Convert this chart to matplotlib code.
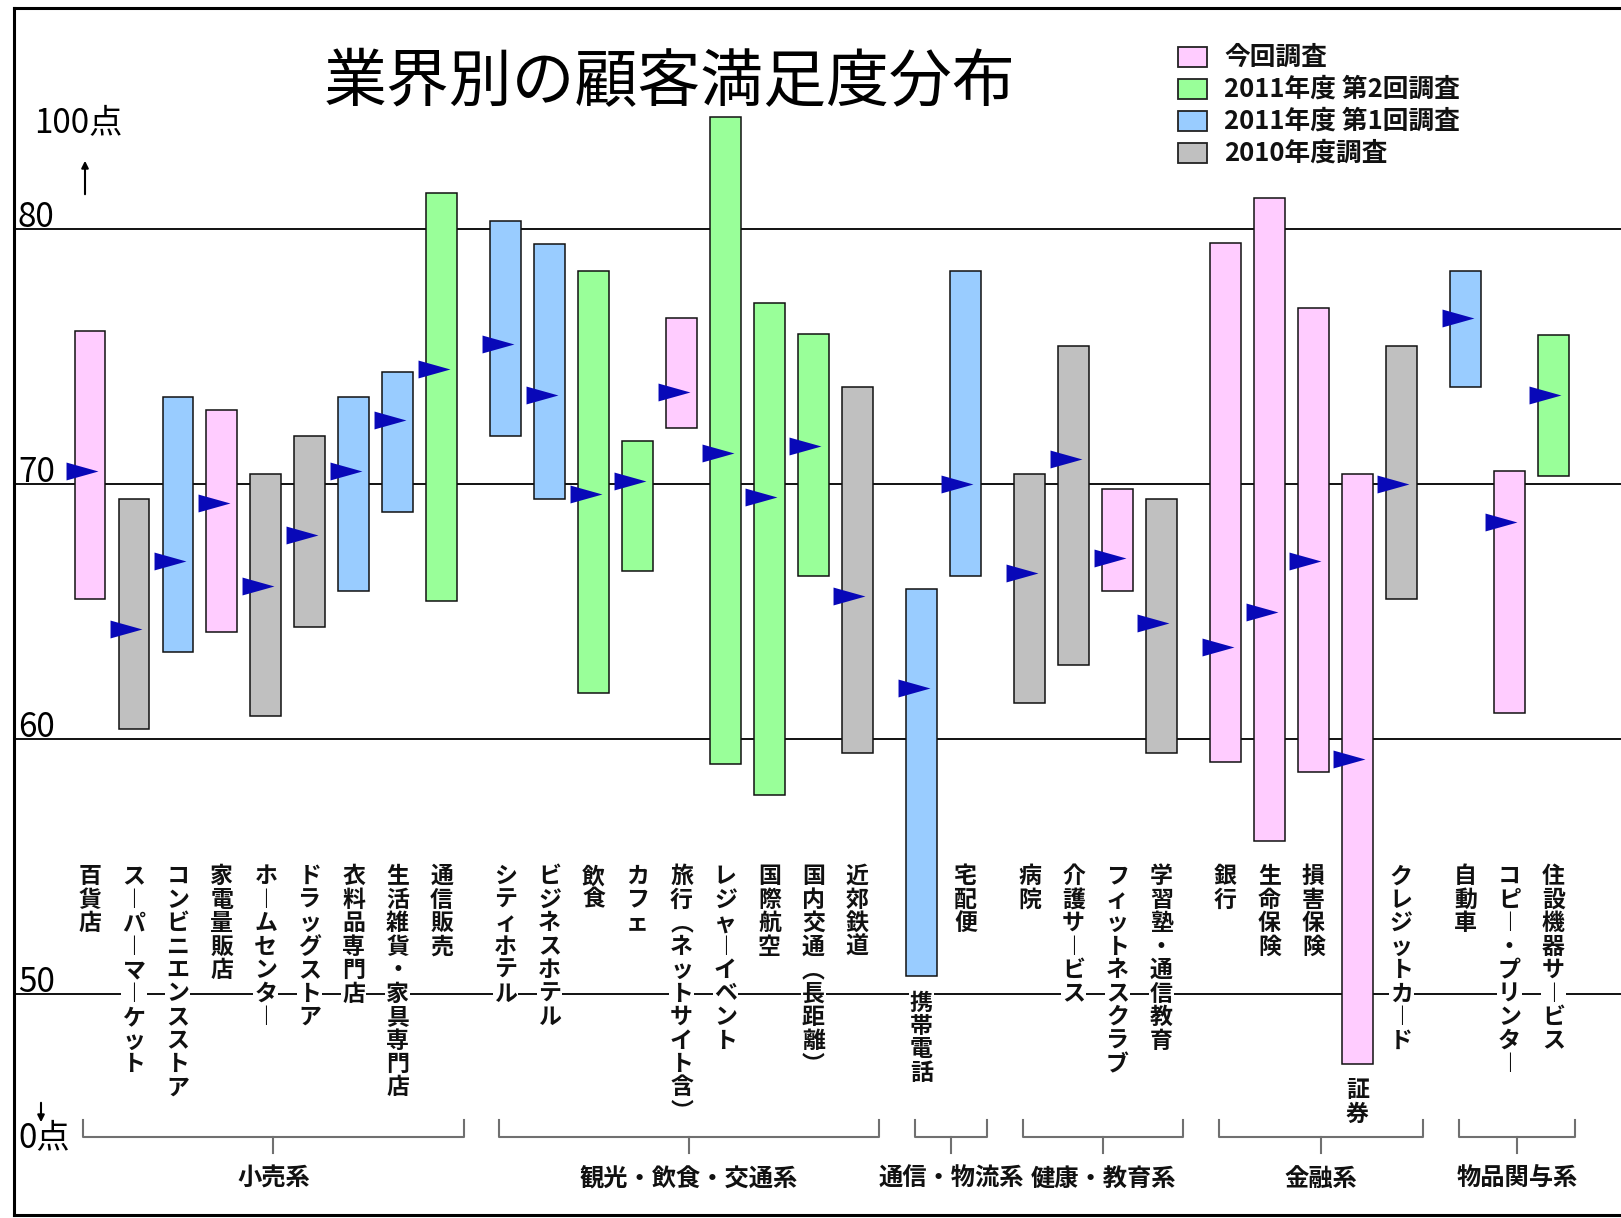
import matplotlib.pyplot as plt
from matplotlib.patches import Rectangle

plt.rcParams['font.family'] = ['Noto Sans CJK JP', 'DejaVu Sans']

title = '業界別の顧客満足度分布'
surveys = ['今回調査', '2011年度 第2回調査', '2011年度 第1回調査', '2010年度調査']
survey_colors = ['#ffccff', '#99ff99', '#99ccff', '#c0c0c0']

group_names = ['小売系', '観光・飲食・交通系', '通信・物流系', '健康・教育系', '金融系', '物品関与系']
group_sizes = [9, 9, 2, 4, 5, 3]

industries = ['百貨店', 'スーパーマーケット', 'コンビニエンスストア', '家電量販店', 'ホームセンター',
              'ドラッグストア', '衣料品専門店', '生活雑貨・家具専門店', '通信販売',
              'シティホテル', 'ビジネスホテル', '飲食', 'カフェ', '旅行(ネットサイト含)',
              'レジャーイベント', '国際航空', '国内交通(長距離)', '近郊鉄道',
              '携帯電話', '宅配便',
              '病院', '介護サービス', 'フィットネスクラブ', '学習塾・通信教育',
              '銀行', '生命保険', '損害保険', '証券', 'クレジットカード',
              '自動車', 'コピー・プリンター', '住設機器サービス']
survey_of = [0, 3, 2, 0, 3, 3, 2, 2, 1,
             2, 2, 1, 1, 0, 1, 1, 1, 3,
             2, 2,
             3, 3, 0, 3,
             0, 0, 0, 0, 3,
             2, 0, 1]
score_max = [76.0, 69.4, 73.4, 72.9, 70.4, 71.9, 73.4, 74.4, 81.4,
             80.3, 79.4, 78.35, 71.7, 76.5, 84.4, 77.1, 75.9, 73.8,
             65.9, 78.35,
             70.4, 75.4, 69.8, 69.4,
             79.45, 81.2, 76.9, 70.4, 75.4,
             78.35, 70.5, 75.85]
score_min = [65.5, 60.4, 63.4, 64.2, 60.9, 64.4, 65.8, 68.9, 65.4,
             71.9, 69.4, 61.8, 66.6, 72.2, 59.0, 57.8, 66.4, 59.45,
             50.7, 66.4,
             61.4, 62.9, 65.8, 59.45,
             59.1, 56.0, 58.7, 47.25, 65.5,
             73.8, 61.0, 70.3]
score_mid = [70.5, 64.3, 67.0, 69.25, 66.0, 68.0, 70.5, 72.5, 74.5,
             75.5, 73.5, 69.6, 70.1, 73.6, 71.2, 69.5, 71.5, 65.6,
             62.0, 70.0,
             66.5, 71.0, 67.1, 64.55,
             63.6, 65.0, 67.0, 59.2, 70.0,
             76.5, 68.5, 73.5]
grid_levels = [80, 70, 60, 50]

# x positions: one unit per industry, plus a gap between groups
GAP = 0.46
pos = []
i = 0
for g, n in enumerate(group_sizes):
    for k in range(n):
        pos.append(i + GAP * g)
        i += 1

W, H = 1621, 1218
fig = plt.figure(figsize=(W / 100, H / 100), dpi=100)
ax = fig.add_axes([14 / W, 3 / H, 1 - 14 / W, 1207 / H])
ax.set_xlim(-1.73, 34.84)
ax.set_ylim(41.333, 88.667)
ax.set_xticks([])
ax.set_yticks([])
for s in ['left', 'top', 'bottom']:
    ax.spines[s].set_linewidth(2.2)
ax.spines['right'].set_visible(False)

num_font = ['Liberation Sans Narrow', 'Noto Sans CJK JP']
for lv in grid_levels:
    ax.axhline(lv, color='#111111', lw=1.4, zorder=1)
    ax.text(-1.64, lv + 0.08, str(lv), fontsize=24, va='baseline', ha='left',
            family=num_font, zorder=2)

# bars (min..max) and mid markers
colors = [survey_colors[s] for s in survey_of]
heights = [hi - lo for hi, lo in zip(score_max, score_min)]
ax.bar(pos, heights, bottom=score_min, width=0.7, color=colors,
       edgecolor='#111111', linewidth=1.1, zorder=2)
tri = [(-1, -0.56), (1, 0), (-1, 0.56)]
ax.plot([p - 0.18 for p in pos], score_mid, ls='none', marker=tri, ms=23,
        color='#0808b8', mec='none', zorder=4)

# vertical labels, one character per cell
vert = {'ー': '︱', '(': '︵', ')': '︶'}
PITCH = 16.9
LABEL_TOP = 55.05
for p, name, lo in zip(pos, industries, score_min):
    top = LABEL_TOP if lo > 55.5 else lo - 0.6
    for k, ch in enumerate(name):
        box = None if ch in '()' else dict(boxstyle='square,pad=0.05', fc='white', ec='none')
        ax.annotate(vert.get(ch, ch), (p, top), xytext=(0, -k * PITCH),
                    textcoords='offset points', ha='center', va='top',
                    fontsize=16.5, fontweight='bold', color='#111111', zorder=5,
                    bbox=box)

# group brackets
start = 0
for g, n in enumerate(group_sizes):
    x0 = pos[start] - 0.15
    x1 = pos[start + n - 1] + 0.5
    xc = (x0 + x1) / 2
    ax.plot([x0, x0, x1, x1], [45.06, 44.4, 44.4, 45.06], color='#707070', lw=1.5, zorder=3)
    ax.plot([xc, xc], [44.4, 43.76], color='#707070', lw=1.5, zorder=3)
    ax.text(xc, 42.76, group_names[g], ha='center', va='center', fontsize=17.5,
            fontweight='bold', color='#111111')
    start += n

# axis annotations
fig.text(78 / W, 1 - 132 / H, '100点', ha='center', va='baseline', fontsize=24, family=num_font)
fig.text(44 / W, 1 - 1138 / H, '0点', ha='center', va='center', fontsize=24, family=num_font)
ax.annotate('', xy=(85, H - 158), xytext=(85, H - 197), xycoords='figure pixels',
            textcoords='figure pixels', arrowprops=dict(arrowstyle='-|>', color='black', lw=1.5))
ax.annotate('', xy=(41, H - 1125), xytext=(41, H - 1100), xycoords='figure pixels',
            textcoords='figure pixels', arrowprops=dict(arrowstyle='-|>', color='black', lw=1.5))

fig.text(670 / W, 1 - 83 / H, title, ha='center', va='center', fontsize=45.3)

# legend drawn by hand
for k, (lab, c) in enumerate(zip(surveys, survey_colors)):
    yc = 57 + 32 * k
    fig.patches.append(Rectangle((1178 / W, 1 - (yc + 9.5) / H), 29 / W, 19 / H,
                                 transform=fig.transFigure, facecolor=c,
                                 edgecolor='#222222', lw=1.3))
    fig.text(1224 / W, 1 - yc / H, lab, ha='left', va='center', fontsize=18.5,
             fontweight='bold', color='#111111')

fig.savefig('out.png', dpi=100)
